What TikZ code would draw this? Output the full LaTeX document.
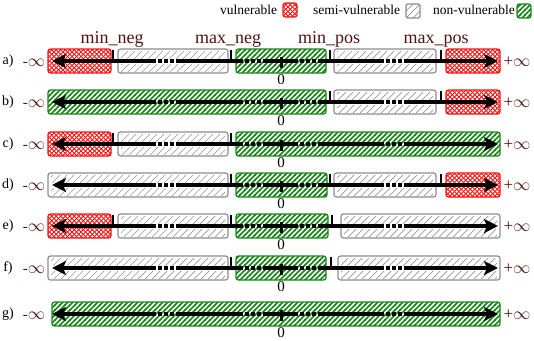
\documentclass[tikz,border=0pt]{standalone}
\usepackage{fontspec}
\setmainfont{Liberation Serif}
\usetikzlibrary{patterns,arrows.meta}

\definecolor{vred}{RGB}{250,20,20}
\definecolor{vgreen}{RGB}{25,135,25}
\definecolor{vgray}{RGB}{140,140,140}
\definecolor{hgray}{RGB}{150,150,150}
\definecolor{maroon}{RGB}{80,18,18}

\pgfdeclarepatternformonly{redx}{\pgfqpoint{-1pt}{-1pt}}{\pgfqpoint{5pt}{5pt}}{\pgfqpoint{4.5pt}{4.5pt}}{%
  \pgfsetlinewidth{0.8pt}%
  \pgfpathmoveto{\pgfqpoint{0pt}{0pt}}\pgfpathlineto{\pgfqpoint{4.5pt}{4.5pt}}%
  \pgfpathmoveto{\pgfqpoint{0pt}{4.5pt}}\pgfpathlineto{\pgfqpoint{4.5pt}{0pt}}%
  \pgfusepath{stroke}}
\pgfdeclarepatternformonly{greenh}{\pgfqpoint{-1pt}{-1pt}}{\pgfqpoint{6pt}{6pt}}{\pgfqpoint{5pt}{5pt}}{%
  \pgfsetlinewidth{1.7pt}%
  \pgfpathmoveto{\pgfqpoint{-0.5pt}{-0.5pt}}\pgfpathlineto{\pgfqpoint{5.5pt}{5.5pt}}%
  \pgfusepath{stroke}}
\pgfdeclarepatternformonly{grayh}{\pgfqpoint{-1pt}{-1pt}}{\pgfqpoint{8pt}{8pt}}{\pgfqpoint{7pt}{7pt}}{%
  \pgfsetlinewidth{0.7pt}%
  \pgfpathmoveto{\pgfqpoint{0pt}{0pt}}\pgfpathlineto{\pgfqpoint{7pt}{7pt}}%
  \pgfusepath{stroke}}

\tikzset{
  redbox/.style={draw=vred, line width=1.3pt, rounded corners=2.5pt, pattern=redx, pattern color=vred},
  greenbox/.style={draw=vgreen, line width=1.3pt, rounded corners=2.5pt, pattern=greenh, pattern color=vgreen},
  graybox/.style={draw=vgray, line width=1.2pt, rounded corners=2.5pt},
  grayhatch/.style={pattern=grayh, pattern color=hgray},
  axisline/.style={line width=3.5pt, black},
  tickmark/.style={line width=2.6pt, black},
  bigtip/.style={-{Stealth[length=14pt,width=14pt,inset=3pt]}},
  rowlab/.style={font=\fontsize{14}{16}\selectfont, inner sep=0pt},
  inflab/.style={text=maroon, inner sep=0pt},
  zerolab/.style={font=\fontsize{15}{17}\selectfont, inner sep=0pt},
  hdr/.style={font=\fontsize{18}{20}\selectfont, text=maroon, inner sep=0pt, anchor=base},
  leg/.style={font=\fontsize{13.5}{15}\selectfont, inner sep=0pt, anchor=base west},
  legicon/.style={minimum width=14pt, minimum height=14pt, inner sep=0pt, rounded corners=1.5pt},
}

\newcommand\infsym{{\fontsize{18}{20}\selectfont$\infty$}}
\newcommand\RB[3]{\draw[redbox] (#1,#3-12) rectangle (#2,#3+12);}
\newcommand\GB[3]{\draw[greenbox] (#1,#3-12) rectangle (#2,#3+12);}
\newcommand\SB[3]{%
  \fill[grayhatch] (#1+3,#3-10) rectangle (#2-3,#3-3);
  \fill[grayhatch] (#1+3,#3+3) rectangle (#2-3,#3+10);
  \draw[graybox] (#1,#3-12) rectangle (#2,#3+12);}
\newcommand\TK[2]{\draw[tickmark] (#1,#2-11) -- (#1,#2);}
\newcommand\AX[2]{%
  \node[rowlab] (r#1) at (8,#2) {#1)};
  \node[inflab, anchor=base] (m#1) at (34,#2+5) {{\fontsize{15}{17}\selectfont -}\infsym};
  \node[inflab, anchor=base] (p#1) at (517,#2+5) {{\fontsize{17}{19}\selectfont +}\infsym};
  \draw[axisline,bigtip] (156,#2) -- (52,#2);
  \draw[axisline] (176,#2) -- (243,#2);
  \draw[axisline] (263,#2) -- (298,#2);
  \draw[axisline] (318,#2) -- (384,#2);
  \draw[axisline,bigtip] (404,#2) -- (498,#2);
  \foreach \s in {156,243,298,384}{
    \draw[axisline] (\s+2,#2) -- (\s+6,#2);
    \draw[axisline] (\s+8,#2) -- (\s+12,#2);
    \draw[axisline] (\s+14,#2) -- (\s+18,#2);
  }
  \draw[line width=3pt] (281,#2-4) -- (281,#2+7);
  \node[zerolab] (z#1) at (281,#2+19) {0};
}

\begin{document}
\begin{tikzpicture}[x=1pt,y=-1pt]
\useasboundingbox (0,0) rectangle (534,340);

% legend
\node[leg] (lv) at (220,14) {vulnerable};
\node[legicon, redbox] (iv) at (290,10) {};
\node[leg] (ls) at (313,14) {semi-vulnerable};
\node[legicon, draw=vgray, line width=1.2pt, grayhatch] (is) at (413,11) {};
\node[leg] (ln) at (433,14) {non-vulnerable};
\node[legicon, greenbox] (in) at (524,11) {};

% headers
\node[hdr] (hmn) at (112,43) {min\_neg};
\node[hdr] (hxn) at (228,43) {max\_neg};
\node[hdr] (hmp) at (329,43) {min\_pos};
\node[hdr] (hxp) at (436,43) {max\_pos};

% a
\def\y{61}
\RB{48}{111}{\y}\SB{118}{228}{\y}\GB{236}{326}{\y}\SB{334}{436}{\y}\RB{446}{500}{\y}
\AX{a}{\y}
\TK{113}{\y}\TK{231}{\y}\TK{330}{\y}\TK{441}{\y}

% b
\def\y{102}
\GB{48}{326}{\y}\SB{334}{436}{\y}\RB{446}{500}{\y}
\AX{b}{\y}
\TK{330}{\y}\TK{441}{\y}

% c
\def\y{144}
\RB{48}{111}{\y}\SB{118}{228}{\y}\GB{236}{500}{\y}
\AX{c}{\y}
\TK{113}{\y}\TK{231}{\y}

% d
\def\y{185}
\SB{48}{228}{\y}\GB{236}{327}{\y}\SB{334}{436}{\y}\RB{446}{500}{\y}
\AX{d}{\y}
\TK{231}{\y}\TK{330}{\y}\TK{441}{\y}

% e
\def\y{226}
\RB{48}{111}{\y}\SB{118}{228}{\y}\GB{236}{328}{\y}\SB{341}{500}{\y}
\AX{e}{\y}
\TK{113}{\y}\TK{231}{\y}\TK{332}{\y}

% f
\def\y{268}
\SB{48}{228}{\y}\GB{236}{326}{\y}\SB{338}{500}{\y}
\AX{f}{\y}
\TK{231}{\y}\TK{331}{\y}

% g
\def\y{314}
\GB{52}{500}{\y}
\AX{g}{\y}
\end{tikzpicture}
\end{document}
